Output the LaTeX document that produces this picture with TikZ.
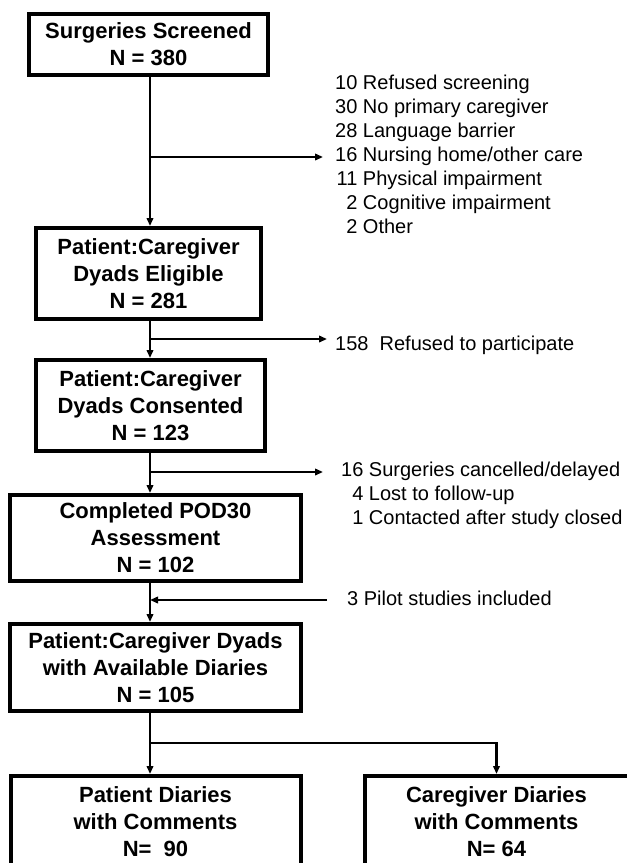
\documentclass[tikz,border=0pt]{standalone}
\usepackage{fontspec}
\setmainfont{Liberation Sans}
\usetikzlibrary{positioning,arrows.meta}

\tikzset{
  stage/.style={rectangle, draw, line width=4pt, align=center,
    font=\fontsize{22}{27}\selectfont\bfseries},
  note/.style={inner xsep=12pt, inner ysep=0pt,
    font=\fontsize{20}{24}\selectfont},
  link/.style={line width=2.5pt},
  flow/.style={link, -{Triangle[length=8pt,width=6.5pt]}}
}

\begin{document}
\begin{tikzpicture}[x=1pt,y=-1pt]
  \useasboundingbox (0,0) rectangle (627,863);
  \clip (0,0) rectangle (627,863);
  \coordinate (trunk) at (150,0);

  \node[stage,
  minimum width=239pt,
  minimum height=61pt] (screened) at (148.5,44.5) {Surgeries Screened\\N = 380};
  \node[stage,
  below=149pt of screened,
  minimum width=225pt,
  minimum height=91pt] (eligible) {Patient:Caregiver\\Dyads Eligible\\N = 281};
  \node[stage,
  below=37pt of eligible,
  xshift=2pt,
  minimum width=229pt,
  minimum height=91pt] (consented) {Patient:Caregiver\\Dyads Consented\\N = 123};
  \node[stage,
  below=40pt of consented,
  xshift=5pt,
  minimum width=291pt,
  minimum height=86pt] (completed) {Completed POD30\\Assessment\\N = 102};
  \node[stage,
  below=39pt of completed,
  minimum width=291pt,
  minimum height=87pt] (diaries) {Patient:Caregiver Dyads\\with Available Diaries\\N = 105};
  \node[stage,
  below=61pt of diaries,
  minimum width=290pt,
  minimum height=92pt] (patient) {Patient Diaries\\with Comments\\N=\ \ 90};
  \node[stage,
  right=60pt of patient,
  minimum width=264pt,
  minimum height=92pt] (caregiver) {Caregiver Diaries\\with Comments\\N= 64};

  % branch points on the trunk
  \coordinate (split1) at (150,157);
  \coordinate (split2) at (150,339);
  \coordinate (split3) at (150,472);
  \coordinate (join) at (150,600);
  \coordinate (fork) at (150,743);

  \node[note, right=173pt of split1, anchor=base west, yshift=68pt] (excluded)
  {\begin{tabular}[t]{@{}r@{ }l@{}}
    10 & Refused screening\\
    30 & No primary caregiver\\
    28 & Language barrier\\
    16 & Nursing home/other care\\
    11 & Physical impairment\\
    2 & Cognitive impairment\\
    2 & Other
  \end{tabular}};
  \node[note, inner xsep=8pt, right=177pt of split2, anchor=base west, yshift=-11pt] (refused)
  {158\ \ Refused to participate};
  \node[note, inner xsep=18pt, right=173pt of split3, anchor=base west, yshift=-4pt] (lost)
  {\begin{tabular}[t]{@{}r@{ }l@{}}
    16 & Surgeries cancelled/delayed\\
    4 & Lost to follow-up\\
    1 & Contacted after study closed
  \end{tabular}};
  \node[note, inner xsep=20pt, right=177pt of join, anchor=base west, yshift=-5pt] (pilot)
  {3 Pilot studies included};

  \draw[flow] (screened.south -| trunk)--(eligible.north -| trunk);
  \draw[flow] (eligible.south -| trunk)--(consented.north -| trunk);
  \draw[flow] (consented.south -| trunk)--(completed.north -| trunk);
  \draw[flow] (completed.south -| trunk)--(diaries.north -| trunk);
  \draw[flow] (diaries.south -| trunk)--(patient.north -| trunk);
  \draw[flow] (split1)--(split1 -| excluded.west);
  \draw[flow] (split2)--(split2 -| refused.west);
  \draw[flow] (split3)--(split3 -| lost.west);
  \draw[flow] (pilot.west |- join)--(join);
  \draw[flow] (fork) -| (caregiver.north);
\end{tikzpicture}
\end{document}
